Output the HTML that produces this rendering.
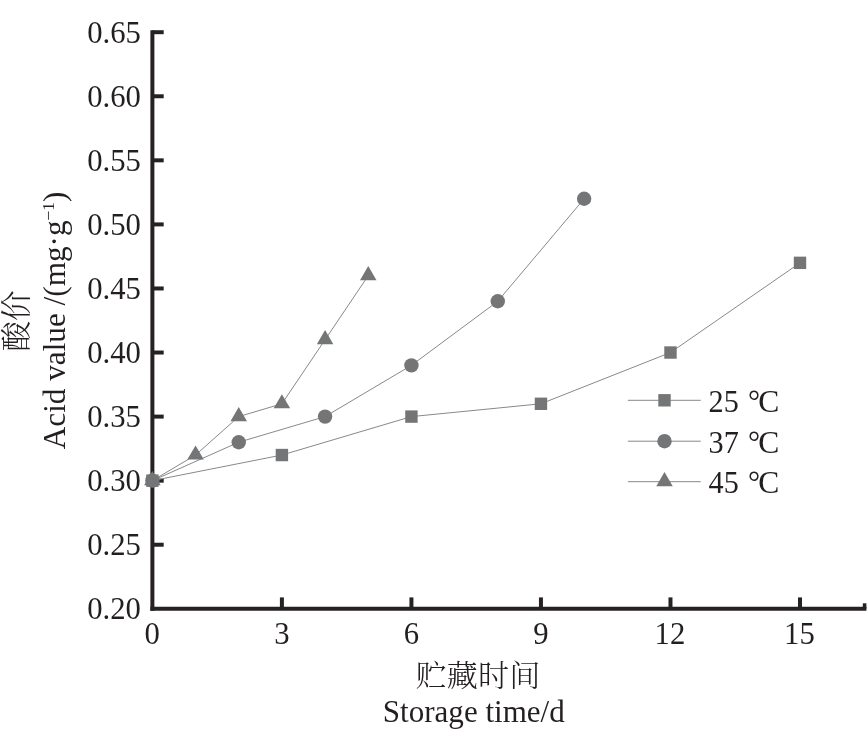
<!DOCTYPE html>
<html lang="zh"><head><meta charset="utf-8"><title>Acid value vs storage time</title>
<style>
html,body{margin:0;padding:0;background:#fff;}
body{width:867px;height:732px;overflow:hidden;}
svg{display:block;}
text{font-family:"Liberation Serif","Noto Serif CJK SC",serif;fill:#231f20;}
.cj{font-family:"Noto Serif CJK SC","Liberation Serif",serif;font-weight:300;}
</style></head><body>
<svg width="867" height="732" viewBox="0 0 867 732">
<rect width="867" height="732" fill="#fff"/>
<g stroke="#262223" stroke-width="4" fill="none">
<path d="M152.38,30.20 V610.80"/>
<path d="M150.38,608.80 H866.4"/>
<path d="M152.38,544.73 H163.7"/>
<path d="M152.38,480.67 H163.7"/>
<path d="M152.38,416.60 H163.7"/>
<path d="M152.38,352.53 H163.7"/>
<path d="M152.38,288.47 H163.7"/>
<path d="M152.38,224.40 H163.7"/>
<path d="M152.38,160.33 H163.7"/>
<path d="M152.38,96.27 H163.7"/>
<path d="M152.38,32.20 H163.7"/>
<path d="M281.90,608.80 V597.4"/>
<path d="M411.43,608.80 V597.4"/>
<path d="M540.95,608.80 V597.4"/>
<path d="M670.48,608.80 V597.4"/>
<path d="M800.00,608.80 V597.4"/>
<path d="M864.6,608.80 V603.3" stroke-width="3.6"/>
</g>
<text transform="translate(140.9,619.10) scale(0.975,1)" font-size="31.5" text-anchor="end">0.20</text>
<text transform="translate(140.9,555.03) scale(0.975,1)" font-size="31.5" text-anchor="end">0.25</text>
<text transform="translate(140.9,490.97) scale(0.975,1)" font-size="31.5" text-anchor="end">0.30</text>
<text transform="translate(140.9,426.90) scale(0.975,1)" font-size="31.5" text-anchor="end">0.35</text>
<text transform="translate(140.9,362.83) scale(0.975,1)" font-size="31.5" text-anchor="end">0.40</text>
<text transform="translate(140.9,298.77) scale(0.975,1)" font-size="31.5" text-anchor="end">0.45</text>
<text transform="translate(140.9,234.70) scale(0.975,1)" font-size="31.5" text-anchor="end">0.50</text>
<text transform="translate(140.9,170.63) scale(0.975,1)" font-size="31.5" text-anchor="end">0.55</text>
<text transform="translate(140.9,106.57) scale(0.975,1)" font-size="31.5" text-anchor="end">0.60</text>
<text transform="translate(140.9,42.50) scale(0.975,1)" font-size="31.5" text-anchor="end">0.65</text>
<text transform="translate(152.28,644.4) scale(0.975,1)" font-size="31.5" text-anchor="middle">0</text>
<text transform="translate(281.80,644.4) scale(0.975,1)" font-size="31.5" text-anchor="middle">3</text>
<text transform="translate(411.33,644.4) scale(0.975,1)" font-size="31.5" text-anchor="middle">6</text>
<text transform="translate(540.85,644.4) scale(0.975,1)" font-size="31.5" text-anchor="middle">9</text>
<text transform="translate(669.88,644.4) scale(0.975,1)" font-size="31.5" text-anchor="middle">12</text>
<text transform="translate(799.40,644.4) scale(0.975,1)" font-size="31.5" text-anchor="middle">15</text>
<polyline fill="none" stroke="#88898b" stroke-width="1" points="152.38,480.67 281.90,455.04 411.43,416.60 540.95,403.79 670.48,352.53 800.00,262.84"/>
<polyline fill="none" stroke="#88898b" stroke-width="1" points="152.38,480.67 238.73,442.23 325.08,416.60 411.43,365.35 497.78,301.28 584.13,198.77"/>
<polyline fill="none" stroke="#88898b" stroke-width="1" points="152.38,480.67 195.55,455.04 238.73,416.60 281.90,403.79 325.08,339.72 368.25,275.65"/>
<rect x="146.18" y="474.47" width="12.4" height="12.4" fill="#747577"/>
<rect x="275.70" y="448.84" width="12.4" height="12.4" fill="#747577"/>
<rect x="405.23" y="410.40" width="12.4" height="12.4" fill="#747577"/>
<rect x="534.75" y="397.59" width="12.4" height="12.4" fill="#747577"/>
<rect x="664.28" y="346.33" width="12.4" height="12.4" fill="#747577"/>
<rect x="793.80" y="256.64" width="12.4" height="12.4" fill="#747577"/>
<circle cx="152.38" cy="480.67" r="7.2" fill="#747577"/>
<circle cx="238.73" cy="442.23" r="7.2" fill="#747577"/>
<circle cx="325.08" cy="416.60" r="7.2" fill="#747577"/>
<circle cx="411.43" cy="365.35" r="7.2" fill="#747577"/>
<circle cx="497.78" cy="301.28" r="7.2" fill="#747577"/>
<circle cx="584.13" cy="198.77" r="7.2" fill="#747577"/>
<polygon points="152.38,471.01 160.63,485.21 144.13,485.21" fill="#747577"/>
<polygon points="195.55,445.38 203.80,459.58 187.30,459.58" fill="#747577"/>
<polygon points="238.73,406.94 246.98,421.14 230.48,421.14" fill="#747577"/>
<polygon points="281.90,394.13 290.15,408.33 273.65,408.33" fill="#747577"/>
<polygon points="325.08,330.06 333.33,344.26 316.83,344.26" fill="#747577"/>
<polygon points="368.25,266.00 376.50,280.20 360.00,280.20" fill="#747577"/>
<path d="M627.8,400.3 H700.8" stroke="#88898b" stroke-width="1"/>
<rect x="658.30" y="394.10" width="12.4" height="12.4" fill="#747577"/>
<text transform="translate(708.6,411.9) scale(0.975,1)" font-size="31">25<tspan dx="1.6"> °</tspan><tspan dx="-1.7" textLength="21.6" lengthAdjust="spacingAndGlyphs">C</tspan></text>
<path d="M627.8,441.2 H700.8" stroke="#88898b" stroke-width="1"/>
<circle cx="664.50" cy="441.20" r="7.2" fill="#747577"/>
<text transform="translate(708.6,452.8) scale(0.975,1)" font-size="31">37<tspan dx="1.6"> °</tspan><tspan dx="-1.7" textLength="21.6" lengthAdjust="spacingAndGlyphs">C</tspan></text>
<path d="M627.8,481.7 H700.8" stroke="#88898b" stroke-width="1"/>
<polygon points="664.50,472.04 672.75,486.24 656.25,486.24" fill="#747577"/>
<text transform="translate(708.6,493.3) scale(0.975,1)" font-size="31">45<tspan dx="1.6"> °</tspan><tspan dx="-1.7" textLength="21.6" lengthAdjust="spacingAndGlyphs">C</tspan></text>
<text class="cj" transform="translate(478,686) scale(1.005,0.95)" font-size="31" text-anchor="middle">贮藏时间</text>
<text transform="translate(473.8,721.7) scale(0.986,1)" font-size="31.5" text-anchor="middle">Storage time/d</text>
<text class="cj" transform="translate(27,321.1) rotate(-90)" font-size="30.5" text-anchor="middle">酸价</text>
<text transform="translate(65,320.4) rotate(-90) scale(0.991,1)" font-size="31.5" text-anchor="middle">Acid value /(mg·g<tspan font-size="17.5" dy="-11">−1</tspan><tspan dy="11">)</tspan></text>
</svg></body></html>
